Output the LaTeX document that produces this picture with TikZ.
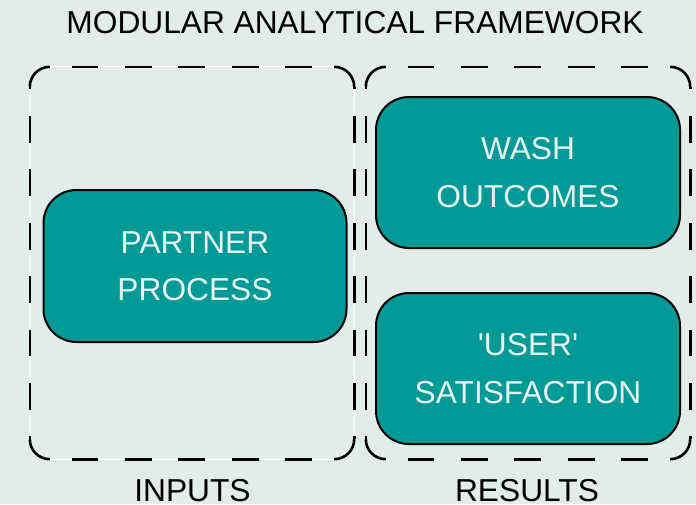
\documentclass[tikz,border=0pt]{standalone}
\usepackage{fontspec}
\setmainfont{Liberation Sans}
\definecolor{bgc}{HTML}{E2ECEA}
\definecolor{tealc}{HTML}{009A96}
\definecolor{txtc}{HTML}{E6F3F1}
\begin{document}
\begin{tikzpicture}[x=1pt,y=-1pt,
  lbl/.style={font=\fontsize{31.7}{47.5}\selectfont, text=black, inner sep=0pt, anchor=base},
  group/.style={draw=none, minimum width=324pt, minimum height=392pt, inner sep=0pt},
  gline/.style={draw=black, line width=2.6pt, line cap=butt},
  hdash/.style={gline, dash pattern=on 26.7pt off 26.7pt, dash phase=31.6pt},
  vdash/.style={gline, dash pattern=on 26.7pt off 26.7pt, dash phase=24.2pt},
  card/.style={draw=black, line width=2pt, fill=tealc, rounded corners=33pt, text=txtc, align=center, font=\fontsize{31.7}{47.5}\selectfont, minimum width=304pt, minimum height=151pt, inner sep=0pt}]
\fill[bgc] (0,0) rectangle (696,504);
\useasboundingbox (0,0) rectangle (696,504);
\node[lbl] (title) at (355,33.5) {MODULAR ANALYTICAL FRAMEWORK};
\draw[white, line width=1pt, rounded corners=20pt] (30,66.7) rectangle (354,459.3);
\node[group] (inputs) at (192,263) {};
\node[group] (results) at (528,263) {};
\foreach \g in {inputs,results}{
  \draw[gline] ([yshift=-20pt]\g.north west) arc[start angle=180,end angle=90,radius=20pt];
  \draw[gline] ([xshift=-20pt]\g.north east) arc[start angle=90,end angle=0,radius=20pt];
  \draw[gline] ([yshift=20pt]\g.south east) arc[start angle=0,end angle=-90,radius=20pt];
  \draw[gline] ([xshift=20pt]\g.south west) arc[start angle=270,end angle=180,radius=20pt];
  \draw[hdash] ([xshift=20pt]\g.north west) -- ([xshift=-20pt]\g.north east);
  \draw[hdash] ([xshift=20pt]\g.south west) -- ([xshift=-20pt]\g.south east);
  \draw[vdash] ([yshift=-20pt]\g.north west) -- ([yshift=20pt]\g.south west);
  \draw[vdash] ([yshift=-20pt]\g.north east) -- ([yshift=20pt]\g.south east);
}
\node[card, minimum width=303pt, minimum height=152pt] (partner) at (195,266) {PARTNER\\PROCESS};
\node[card] (wash) at (528,172.5) {WASH\\OUTCOMES};
\node[card] (user) at (528,368.5) {\textquotesingle USER\textquotesingle\\SATISFACTION};
\node[lbl] (inlbl) at (192.5,501) {INPUTS};
\node[lbl] (reslbl) at (527,501) {RESULTS};
\end{tikzpicture}
\end{document}
